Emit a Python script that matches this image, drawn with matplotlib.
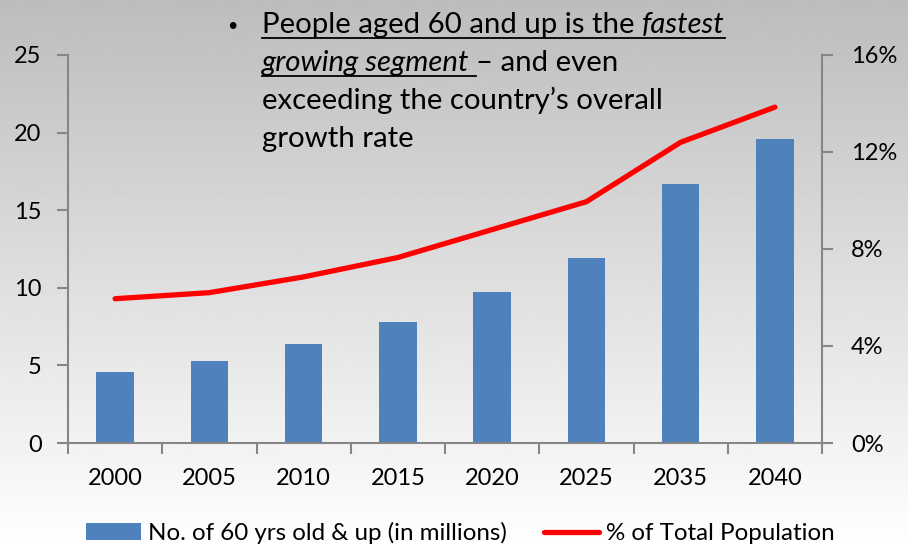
import matplotlib.pyplot as plt
import numpy as np
from matplotlib.transforms import IdentityTransform
from matplotlib.lines import Line2D

years = ['2000', '2005', '2010', '2015', '2020', '2025', '2035', '2040']
seniors = [4.6, 5.3, 6.4, 7.8, 9.7, 11.9, 16.7, 19.6]      # millions
share = [5.95, 6.2, 6.85, 7.65, 8.8, 9.95, 12.4, 13.85]     # % of total population

plt.rcParams['font.family'] = ['Lato', 'DejaVu Sans']
W, H = 908, 549
gray = '#868686'

fig = plt.figure(figsize=(W / 100, H / 100), dpi=100)

# background gradient
bg = fig.add_axes([0, 0, 1, 1], zorder=-1)
grad = np.linspace(1.0, 0.74, 256).reshape(-1, 1)
bg.imshow(grad, cmap='gray', vmin=0, vmax=1, aspect='auto', origin='lower', extent=[0, 1, 0, 1])
bg.axis('off')

ax = fig.add_axes([68 / W, 1 - 443 / H, (822 - 68) / W, (443 - 55) / H])
ax.patch.set_alpha(0)
x = np.arange(len(years))
bars = ax.bar(x, seniors, width=0.4, color='#4F81BD', label='No. of 60 yrs old & up (in millions)')
ax.set_xlim(-0.5, len(years) - 0.5)
ax.set_ylim(0, 25)
ax.set_yticks([0, 5, 10, 15, 20, 25])
ax.set_xticks(x)
ax.set_xticklabels(years)
ax.set_xticks(np.arange(len(years) + 1) - 0.5, minor=True)
ax.tick_params(axis='x', which='major', length=0, pad=18, labelsize=17)
ax.tick_params(axis='x', which='minor', length=8, width=1.5, color=gray)
ax.tick_params(axis='y', length=8, width=1.5, color=gray, pad=11, labelsize=17)
for s in ['top', 'right']:
    ax.spines[s].set_visible(False)
for s in ['left', 'bottom']:
    ax.spines[s].set_color(gray)
    ax.spines[s].set_linewidth(1.5)

ax2 = ax.twinx()
line, = ax2.plot(x, share, color='#FF0000', lw=3.8, solid_capstyle='round',
                 solid_joinstyle='round', label='% of Total Population')
ax2.set_ylim(0, 16)
ax2.set_yticks([0, 4, 8, 12, 16])
ax2.yaxis.set_major_formatter(lambda v, p: f'{v:.0f}%')
ax2.tick_params(axis='y', length=8, width=1.5, color=gray, pad=13, labelsize=17)
for s in ['top', 'left', 'bottom']:
    ax2.spines[s].set_visible(False)
ax2.spines['right'].set_color(gray)
ax2.spines['right'].set_linewidth(1.5)

fig.legend(handles=[bars, line], loc='center', bbox_to_anchor=(0.507, 1 - 533 / H), ncol=2,
           frameon=False, fontsize=17.4, handlelength=2.3, handletextpad=0.3, columnspacing=1.5)

# bullet text with underline / italics
FS = 21.2
r = fig.canvas.get_renderer()
tr = IdentityTransform()


def put(xp, yp, s, style='normal'):
    t = fig.text(xp, H - yp, s, fontsize=FS, style=style, transform=tr, va='baseline')
    return t.get_window_extent(r).x1


def under(x0, x1, yp):
    fig.add_artist(Line2D([x0, x1], [H - yp, H - yp], transform=tr, color='black', lw=1.3))


fig.text(232, H - 26, '•', fontsize=13, transform=tr, va='center', ha='center')
x0 = 262
x1 = put(x0, 33, 'People aged 60 and up is the ')
x1 = put(x1, 33, 'fastest', 'italic')
under(x0, x1, 37.5)
x1 = put(x0, 71, 'growing segment ', 'italic')
under(x0, x1, 75.5)
put(x1, 71, '– and even')
put(x0, 109, 'exceeding the country’s overall')
put(x0, 147, 'growth rate')

fig.savefig('out.png', dpi=100)
